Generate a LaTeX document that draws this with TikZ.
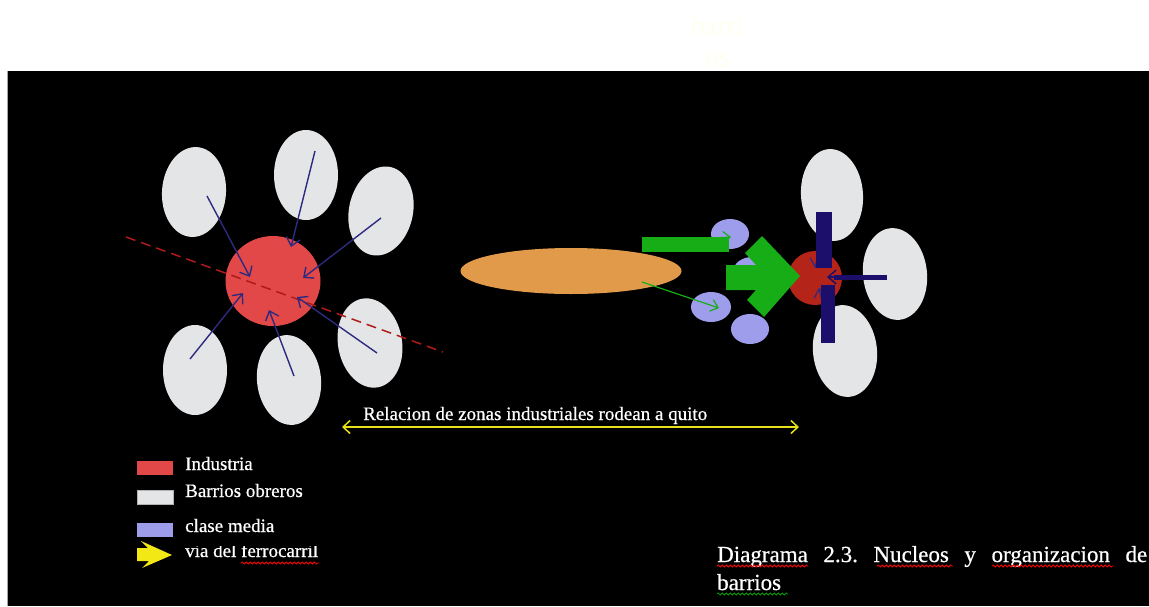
\documentclass[tikz,border=0pt]{standalone}
\usepackage{fontspec}
\setmainfont{Liberation Serif}
\newfontfamily\thickserif{Liberation Serif}[FakeBold=0.6]
\usetikzlibrary{shapes.geometric, arrows.meta, decorations.pathmorphing}
\definecolor{wgray}{HTML}{E4E5E7}
\definecolor{indred}{HTML}{E24848}
\definecolor{darkind}{HTML}{B52418}
\definecolor{navyar}{HTML}{2E2A80}
\definecolor{navybar}{HTML}{1B0F6B}
\definecolor{dashred}{HTML}{B01A1A}
\definecolor{railor}{HTML}{E19A4A}
\definecolor{grn}{HTML}{17AD17}
\definecolor{lav}{HTML}{9D9DEB}
\definecolor{yel}{HTML}{E6E01A}
\definecolor{yelleg}{HTML}{F2E816}
\definecolor{palet}{HTML}{FFFFF0}
\newcommand\lblfont{\thickserif\fontsize{19}{22}\selectfont}
\newcommand\capfont{\thickserif\fontsize{23}{28}\selectfont\frenchspacing}
\begin{document}
\begin{tikzpicture}[x=1pt,y=-1pt,
  barrio/.style={ellipse, fill=wgray, inner sep=0pt, minimum width=64pt, minimum height=90pt},
  lavblob/.style={ellipse, fill=lav, inner sep=0pt, minimum width=38pt, minimum height=30pt},
  navyarrow/.style={draw=navyar, line width=1.4pt, -{Straight Barb[length=8pt,width=14pt]}},
  grnarrow/.style={draw=grn, line width=1.2pt, -{Straight Barb[length=7pt,width=12pt]}},
  lbl/.style={anchor=base west, text=white, inner sep=0pt, font=\lblfont},
  legbox/.style={inner sep=0pt, minimum width=36pt, minimum height=14pt},
  wavy/.style={decorate, decoration={snake, amplitude=1pt, segment length=4pt}, line width=0.8pt}
]
\useasboundingbox (0,0) rectangle (1149,606);
\fill[white] (0,0) rectangle (1149,606);
\fill[black] (8,71) rectangle (1149,606);
\draw[gray!70, line width=1pt] (7.5,71) -- (7.5,606);

% faint top text
\node[anchor=base, inner sep=0pt, text=palet, font=\fontsize{28}{30}\selectfont] (topa) at (717,35) {barri};
\node[anchor=base, inner sep=0pt, text=palet, font=\fontsize{28}{30}\selectfont] (topb) at (717,65) {os};

% ---------- left cluster ----------
\node[barrio, rotate=-4] (b1) at (194,192) {};
\node[barrio] (b2) at (306,175) {};
\node[barrio, rotate=-12] (b3) at (381,211) {};
\node[barrio, rotate=10] (b4) at (370,343) {};
\node[barrio, rotate=6] (b5) at (289,380) {};
\node[barrio] (b6) at (195,370) {};
\node[ellipse, fill=indred, inner sep=0pt, minimum width=95pt, minimum height=90pt] (core) at (273,281) {};

\coordinate (d1) at (126,237);
\coordinate (d2) at (443,352);
\draw[dashred, line width=1.5pt, dash pattern=on 10pt off 6pt] (d1) -- (d2);

\coordinate (a1s) at (207,196); \coordinate (a1e) at (250,277);
\coordinate (a2s) at (315,151); \coordinate (a2e) at (291,247);
\coordinate (a3s) at (381,218); \coordinate (a3e) at (303,278);
\coordinate (a4s) at (377,353); \coordinate (a4e) at (297,297);
\coordinate (a5s) at (294,376); \coordinate (a5e) at (269,310);
\coordinate (a6s) at (190,359); \coordinate (a6e) at (243,293);
\draw[navyarrow] (a1s) -- (a1e);
\draw[navyarrow] (a2s) -- (a2e);
\draw[navyarrow] (a3s) -- (a3e);
\draw[navyarrow] (a4s) -- (a4e);
\draw[navyarrow] (a5s) -- (a5e);
\draw[navyarrow] (a6s) -- (a6e);

% ---------- middle ----------
\node[ellipse, fill=railor, inner sep=0pt, minimum width=221pt, minimum height=46pt] (rail) at (571,271) {};
\node[lavblob] (m1) at (730,234) {};
\node[lavblob, minimum width=40pt] (m2) at (711,307) {};
\node[lavblob] (m3) at (750,329) {};
\node[lavblob] (m4) at (752,272) {};

% ---------- right cluster ----------
\node[barrio, minimum width=62pt, minimum height=92pt, rotate=4] (r1) at (832,195) {};
\node[barrio, minimum height=92pt, rotate=6] (r2) at (895,274) {};
\node[barrio, minimum height=92pt, rotate=6] (r3) at (845,351) {};
\node[ellipse, fill=darkind, inner sep=0pt, minimum width=54pt, minimum height=54pt] (rcore) at (815,278) {};

% green arrows and block
\coordinate (g1s) at (680,240); \coordinate (g1e) at (731,237);
\draw[grnarrow] (g1s) -- (g1e);
\coordinate (g2s) at (642,282); \coordinate (g2e) at (719,308);
\draw[grnarrow] (g2s) -- (g2e);
\fill[grn] (642,237) rectangle (729,252);
\fill[grn] (726,265) -- (756,265) -- (745,253) -- (762,236) -- (800,276) -- (764,317) -- (747,300) -- (756,290) -- (726,290) -- cycle;

% navy arrows and bars
\coordinate (n1s) at (826,222); \coordinate (n1e) at (815,268);
\coordinate (n2s) at (830,338); \coordinate (n2e) at (819,288);
\draw[navyarrow, line width=1.2pt] (n1s) -- (n1e);
\draw[navyarrow, line width=1.2pt] (n2s) -- (n2e);
\fill[navybar] (816,212) rectangle (832,268);
\fill[navybar] (821,285) rectangle (835,343);
\coordinate (hs) at (887,277); \coordinate (hm) at (834,277); \coordinate (he) at (827,277);
\draw[navybar, line width=5pt] (hs) -- (hm);
\draw[navyarrow, draw=navybar, line width=1.5pt] (hm) -- (he);

% ---------- relation arrow ----------
\coordinate (yl) at (342,427); \coordinate (yr) at (799,427);
\draw[yel, line width=1.5pt, {Straight Barb[length=7pt,width=13pt]}-{Straight Barb[length=7pt,width=13pt]}] (yl) -- (yr);
\node[lbl] (rel) at (363,420) {Relacion de zonas industriales rodean a quito};

% ---------- legend ----------
\node[legbox, fill=indred] (lg1) at (155,468) {};
\node[legbox, fill=wgray, draw=gray!60, line width=0.5pt] (lg2) at (155,497) {};
\node[legbox, fill=lav] (lg3) at (155,530) {};
\fill[yelleg] (137,548) -- (148,548) -- (141,541) -- (172,555) -- (142,568) -- (149,561) -- (137,561) -- cycle;
\node[lbl] (t1) at (185,470) {Industria};
\node[lbl] (t2) at (185,497) {Barrios obreros};
\node[lbl] (t3) at (185,532) {clase media};
\begin{scope}
\clip (180,546) rectangle (340,575);
\node[lbl] (t4) at (185,557) {via del ferrocarril};
\end{scope}
\draw[red, wavy] (241,563) -- (319,563);

% ---------- caption ----------
\node[anchor=base west, inner sep=0pt, text=white, font=\capfont] (cap1) at (717,562) {\makebox[430pt][s]{Diagrama 2.3. Nucleos y organizacion de}};
\node[anchor=base west, inner sep=0pt, text=white, font=\capfont] (cap2) at (717,590) {barrios};
\draw[red, wavy] (717,566) -- (808,566);
\draw[red, wavy] (877,566) -- (953,566);
\draw[red, wavy] (992,566) -- (1113,566);
\draw[green!60!black, wavy] (717,594) -- (788,594);
\end{tikzpicture}
\end{document}
